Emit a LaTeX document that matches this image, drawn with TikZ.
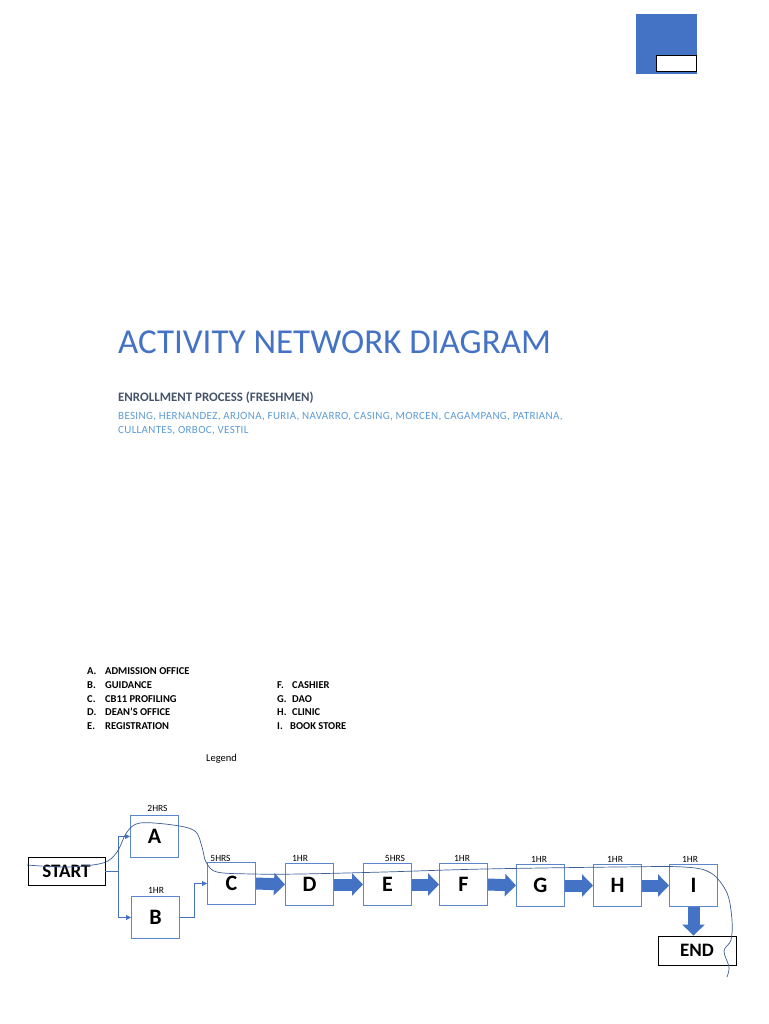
\documentclass[tikz,border=0pt]{standalone}
\usepackage{fontspec}
\setmainfont{Carlito}
\newfontfamily\espace[LetterSpace=3]{Carlito}
\usetikzlibrary{arrows.meta}
\definecolor{accent}{HTML}{4472C4}
\definecolor{boxline}{HTML}{5B85CC}
\definecolor{subtitle}{HTML}{44546A}
\definecolor{names}{HTML}{5B9BD5}
\definecolor{trace}{HTML}{3B5E95}

\begin{document}
\begin{tikzpicture}[x=1pt,y=-1pt]
\tikzset{
  etape/.style={draw=boxline, line width=1pt, minimum width=48pt, minimum height=42pt, inner sep=0pt, font=\fontsize{22}{22}\selectfont\bfseries},
  borne/.style={draw=black, line width=0.9pt, minimum width=77pt, minimum height=28pt, inner sep=0pt, font=\fontsize{19}{19}\selectfont\bfseries},
  duree/.style={anchor=base, inner sep=0pt, font=\fontsize{9.5}{9.5}\selectfont},
  legende/.style={anchor=base west, inner sep=0pt, font=\fontsize{10.5}{10.5}\selectfont\bfseries},
  fleche/.style={accent, line width=12pt, -{Triangle[width=22pt,length=11pt]}},
  lien/.style={accent, line width=0.8pt, -{Triangle[width=5pt,length=5pt]}}
}
\useasboundingbox (0,0) rectangle (768,1024);
% corner mark
\fill[accent] (636,14) rectangle (697,74);
\draw[black, line width=0.9pt, fill=white] (656,55) rectangle (696,71);
% heading
\node[anchor=base west, inner sep=0pt, text=accent, font=\fontsize{35}{35}\selectfont] (titre) at (118,353) {ACTIVITY NETWORK DIAGRAM};
\node[anchor=base west, inner sep=0pt, text=subtitle, font=\fontsize{12.9}{12.9}\selectfont\bfseries] (soustitre) at (118,401) {ENROLLMENT PROCESS (FRESHMEN)};
\node[anchor=base west, inner sep=0pt, text=names, font=\espace\fontsize{11}{11}\selectfont] (noms1) at (118,419) {BESING, HERNANDEZ, ARJONA, FURIA, NAVARRO, CASING, MORCEN, CAGAMPANG, PATRIANA,};
\node[anchor=base west, inner sep=0pt, text=names, font=\espace\fontsize{11}{11}\selectfont] (noms2) at (118,433) {CULLANTES, ORBOC, VESTIL};
% legend
\node[legende] (legA) at (87,674) {\makebox[18pt][l]{A.}ADMISSION OFFICE};
\node[legende] (legB) at (87,688) {\makebox[18pt][l]{B.}GUIDANCE};
\node[legende] (legC) at (87,702) {\makebox[18pt][l]{C.}CB11 PROFILING};
\node[legende] (legD) at (87,715) {\makebox[18pt][l]{D.}DEAN'S OFFICE};
\node[legende] (legE) at (87,729) {\makebox[18pt][l]{E.}REGISTRATION};
\node[legende] (legF) at (277,688) {\makebox[15pt][l]{F.}CASHIER};
\node[legende] (legG) at (277,702) {\makebox[15pt][l]{G.}DAO};
\node[legende] (legH) at (277,715) {\makebox[15pt][l]{H.}CLINIC};
\node[legende] (legI) at (277,729) {\makebox[13pt][l]{I.}BOOK STORE};
\node[anchor=base west, inner sep=0pt, font=\fontsize{10.5}{10.5}\selectfont] (legende) at (206,761) {Legend};
% network
\node[borne] (START) at (66.5,871) {START};
\node[etape] (A) at (154.5,836.5) {A};
\node[etape] (B) at (155.5,917.5) {B};
\node[etape] (C) at (231.5,883.5) {C};
\node[etape] (D) at (309.5,884.5) {D};
\node[etape] (E) at (387.5,884.5) {E};
\node[etape] (F) at (463.5,884.5) {F};
\node[etape] (G) at (540.5,885.5) {G};
\node[etape] (H) at (617.5,885.5) {H};
\node[etape] (I) at (693.5,885.5) {I};
\node[borne, minimum width=78pt, minimum height=29pt] (END) at (697,950.5) {END};
% durations
\node[duree] (tA) at (157.5,811) {2HRS};
\node[duree] (tB) at (156,893) {1HR};
\node[duree] (tC) at (220.5,861) {5HRS};
\node[duree] (tD) at (300,861) {1HR};
\node[duree] (tE) at (395,861) {5HRS};
\node[duree] (tF) at (462,861) {1HR};
\node[duree] (tG) at (539,862) {1HR};
\node[duree] (tH) at (615,862) {1HR};
\node[duree] (tI) at (690,862) {1HR};
% start branches
\coordinate (fork) at (118,871);
\draw[accent, line width=0.8pt] (START.east) -- (fork);
\draw[lien] (fork) |- (A.west);
\draw[lien] (fork) |- (B.west);
\draw[lien] (B.east) -- ++(14,0) |- (C.west);
% main chain
\draw[fleche] (C.east) -- (D.west);
\draw[fleche] (D.east) -- (E.west);
\draw[fleche] (E.east) -- (F.west);
\draw[fleche] (F.east) -- (G.west);
\draw[fleche] (G.east) -- (H.west);
\draw[fleche] (H.east) -- (I.west);
\draw[fleche] (I.south) -- (I.south |- END.north);
% critical path sketch
\draw[trace, line width=0.7pt] plot[smooth, tension=0.55] coordinates {(27,865) (67,867) (103,863) (117,852) (127,832) (140,823) (173,825) (195,831) (202,847) (206,862) (217,872) (253,874) (300,874) (384,872) (484,869) (617,867) (684,867) (711,873) (727,893) (732,920) (731,940) (724,951) (729,967) (727,977)};
\end{tikzpicture}
\end{document}
